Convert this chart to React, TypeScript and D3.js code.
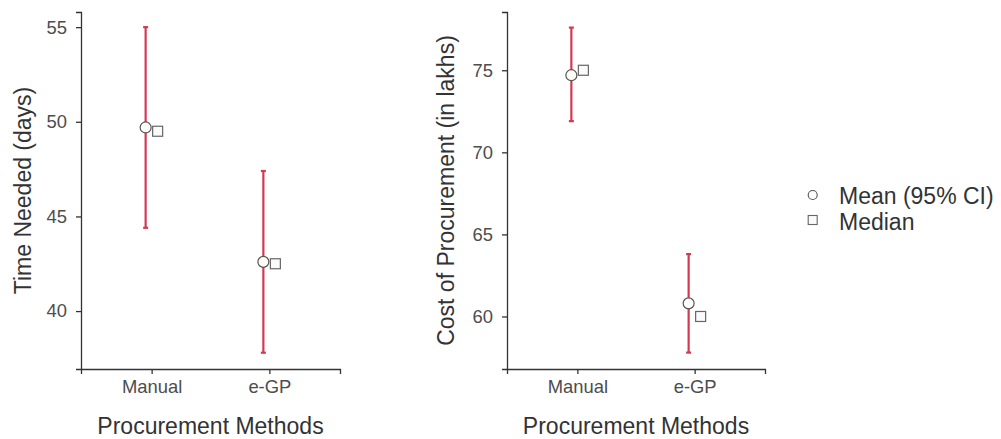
import React, { useEffect, useRef } from 'react';
import * as d3 from 'd3';

// categories and values
const categories = ['Manual', 'e-GP'];

const timeMean = [49.7, 42.6];
const timeLow = [44.4, 37.8];
const timeHigh = [55.0, 47.4];
const timeMedian = [49.5, 42.5];
const timeTicks = [40, 45, 50, 55];

const costMean = [74.7, 60.8];
const costLow = [71.9, 57.8];
const costHigh = [77.6, 63.8];
const costMedian = [75.0, 60.0];
const costTicks = [60, 65, 70, 75];

const FONT = "'Liberation Sans', Arial, sans-serif";
const RED = '#d23a52';
const DODGE = 6;

type PanelProps = {
  left: number;
  right: number;
  yDomain: [number, number];
  ticks: number[];
  mean: number[];
  low: number[];
  high: number[];
  median: number[];
  yTitle: string;
  yTitleX: number;
};

const TOP = 12;
const BOTTOM = 369;

const Panel = ({ left, right, yDomain, ticks, mean, low, high, median, yTitle, yTitleX }: PanelProps) => {
  const xRef = useRef<SVGGElement>(null);
  const yRef = useRef<SVGGElement>(null);

  const x = d3.scalePoint<string>().domain(categories).range([left, right]).padding(0.6);
  const y = d3.scaleLinear().domain(yDomain).range([BOTTOM, TOP]);

  useEffect(() => {
    const gx = d3.select(xRef.current);
    gx.selectAll('*').remove();
    gx.call(d3.axisBottom(x).tickSizeOuter(0).tickSize(5).tickPadding(6));
    gx.selectAll('.domain, .tick line').attr('stroke', '#333').attr('stroke-width', 1.3);
    gx.selectAll('.tick text')
      .attr('fill', '#4d4d4d')
      .style('font-size', '18.4px')
      .style('font-family', FONT);

    const gy = d3.select(yRef.current);
    gy.selectAll('*').remove();
    gy.call(d3.axisLeft(y).tickValues(ticks).tickSizeOuter(0).tickSize(5).tickPadding(9));
    gy.selectAll('.domain, .tick line').attr('stroke', '#333').attr('stroke-width', 1.3);
    gy.selectAll('.tick text')
      .attr('fill', '#4d4d4d')
      .style('font-size', '18.4px')
      .style('font-family', FONT);
  });

  const cy = (TOP + BOTTOM) / 2;

  return (
    <g>
      <g ref={xRef} transform={`translate(0,${BOTTOM})`} />
      <g ref={yRef} transform={`translate(${left},0)`} />
      {categories.map((c, i) => {
        const cx = (x(c) as number) - DODGE;
        return (
          <g key={c}>
            <line x1={cx} x2={cx} y1={y(low[i])} y2={y(high[i])} stroke={RED} strokeWidth={2.2} />
            <line x1={cx - 2.5} x2={cx + 2.5} y1={y(low[i])} y2={y(low[i])} stroke={RED} strokeWidth={2.2} />
            <line x1={cx - 2.5} x2={cx + 2.5} y1={y(high[i])} y2={y(high[i])} stroke={RED} strokeWidth={2.2} />
            <circle cx={cx} cy={y(mean[i])} r={5.5} fill="#fffdf8" stroke="#555" strokeWidth={1.2} />
            <rect
              x={(x(c) as number) + DODGE - 5}
              y={y(median[i]) - 5}
              width={10}
              height={10}
              fill="#fafafa"
              stroke="#666"
              strokeWidth={1.2}
            />
          </g>
        );
      })}
      <text
        x={(left + right) / 2}
        y={434}
        textAnchor="middle"
        fill="#333"
        style={{ fontSize: '23px', fontFamily: FONT }}
      >
        Procurement Methods
      </text>
      <text
        transform={`translate(${yTitleX},${cy}) rotate(-90)`}
        textAnchor="middle"
        fill="#333"
        style={{ fontSize: '23px', fontFamily: FONT }}
      >
        {yTitle}
      </text>
    </g>
  );
};

const App = () => {
  return (
    <svg
      width={1001}
      height={439}
      style={{ position: 'absolute', left: 0, top: 0, background: '#fff' }}
    >
      <Panel
        left={81}
        right={340}
        yDomain={[36.94, 55.8]}
        ticks={timeTicks}
        mean={timeMean}
        low={timeLow}
        high={timeHigh}
        median={timeMedian}
        yTitle="Time Needed (days)"
        yTitleX={31}
      />
      <Panel
        left={507}
        right={765}
        yDomain={[56.8, 78.55]}
        ticks={costTicks}
        mean={costMean}
        low={costLow}
        high={costHigh}
        median={costMedian}
        yTitle="Cost of Procurement (in lakhs)"
        yTitleX={454}
      />
      <g>
        <circle cx={812.7} cy={195} r={4.5} fill="#fff" stroke="#555" strokeWidth={1.1} />
        <rect x={808.2} y={215.5} width={9} height={9} fill="#fafafa" stroke="#666" strokeWidth={1.1} />
        <text x={839} y={204} fill="#333" style={{ fontSize: '23px', fontFamily: FONT }}>
          Mean (95% CI)
        </text>
        <text x={839} y={229.5} fill="#333" style={{ fontSize: '23px', fontFamily: FONT }}>
          Median
        </text>
      </g>
    </svg>
  );
};

export default App;
